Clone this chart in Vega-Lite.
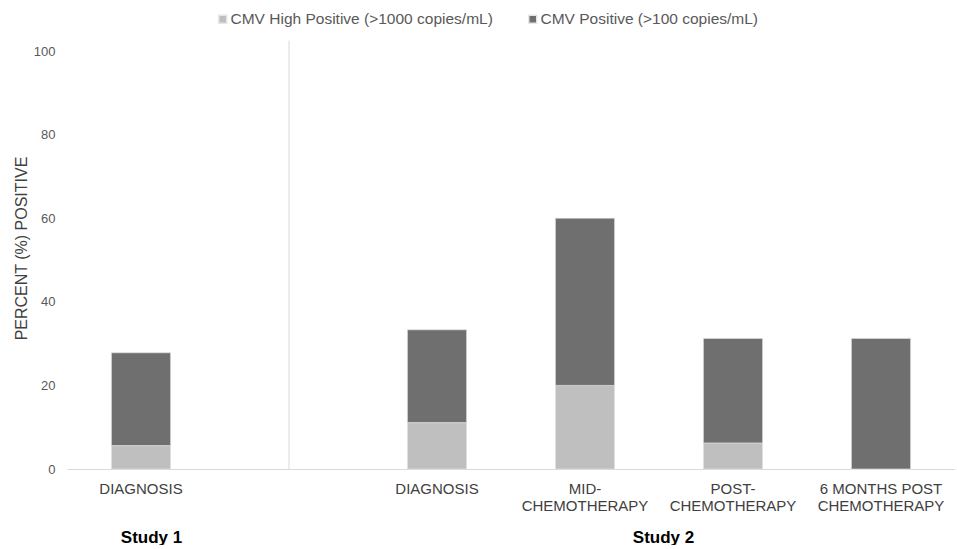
{
  "$schema": "https://vega.github.io/schema/vega-lite/v6.json",
  "background": "white",
  "padding": {"left": 13, "top": 11, "right": 0, "bottom": 0},
  "config": {"font": "Liberation Sans", "view": {"stroke": null}},
  "data": {"values": [
    {"study": "Study 1", "cat": "DIAGNOSIS", "series": "CMV High Positive (>1000 copies/mL)", "pct": 5.6, "kind": "bar"},
    {"study": "Study 1", "cat": "DIAGNOSIS", "series": "CMV Positive (>100 copies/mL)", "pct": 22.2, "kind": "bar"},
    {"study": "Study 1", "cat": "sep", "kind": "sep"},
    {"study": "Study 2", "cat": "DIAGNOSIS", "series": "CMV High Positive (>1000 copies/mL)", "pct": 11.1, "kind": "bar"},
    {"study": "Study 2", "cat": "DIAGNOSIS", "series": "CMV Positive (>100 copies/mL)", "pct": 22.2, "kind": "bar"},
    {"study": "Study 2", "cat": "MID-|CHEMOTHERAPY", "series": "CMV High Positive (>1000 copies/mL)", "pct": 20, "kind": "bar"},
    {"study": "Study 2", "cat": "MID-|CHEMOTHERAPY", "series": "CMV Positive (>100 copies/mL)", "pct": 40, "kind": "bar"},
    {"study": "Study 2", "cat": "POST-|CHEMOTHERAPY", "series": "CMV High Positive (>1000 copies/mL)", "pct": 6.25, "kind": "bar"},
    {"study": "Study 2", "cat": "POST-|CHEMOTHERAPY", "series": "CMV Positive (>100 copies/mL)", "pct": 25, "kind": "bar"},
    {"study": "Study 2", "cat": "6 MONTHS POST|CHEMOTHERAPY", "series": "CMV High Positive (>1000 copies/mL)", "pct": 0, "kind": "bar"},
    {"study": "Study 2", "cat": "6 MONTHS POST|CHEMOTHERAPY", "series": "CMV Positive (>100 copies/mL)", "pct": 31.25, "kind": "bar"}
  ]},
  "spacing": 0,
  "resolve": {"scale": {"x": "independent", "y": "shared", "color": "shared"}},
  "hconcat": [
    {
      "width": 296,
      "height": 418,
      "transform": [{"filter": "datum.study == 'Study 1'"}],
      "encoding": {
        "x": {
          "field": "cat", "type": "nominal", "sort": null,
          "scale": {"paddingInner": 0.6, "paddingOuter": 0.3},
          "axis": {
            "title": "Study 1", "titleFontSize": 17, "titleFontWeight": "bold", "titleColor": "#000000",
            "titleX": 84, "titleY": 68, "titleAlign": "center", "titleBaseline": "middle",
            "labelAngle": 0, "ticks": false, "domainColor": "#D9D9D9",
            "labelFontSize": 15, "labelColor": "#404040", "labelPadding": 12,
            "labelLineHeight": 17.5, "labelBaseline": "top", "labelOverlap": false, "labelLimit": 300,
            "labelExpr": "datum.value == 'sep' ? '' : split(datum.value, '|')"
          }
        }
      },
      "layer": [
        {
          "transform": [{"filter": "datum.kind == 'bar'"}],
          "mark": {"type": "bar", "stroke": "#e6e6e6", "strokeWidth": 0.6},
          "encoding": {
            "y": {
              "field": "pct", "type": "quantitative", "stack": "zero",
              "scale": {"domain": [0, 100], "nice": false},
              "axis": {
                "values": [0, 20, 40, 60, 80, 100], "domain": false, "ticks": false, "grid": false,
                "labelFontSize": 13, "labelColor": "#595959", "labelPadding": 12,
                "title": "PERCENT (%) POSITIVE", "titleFontSize": 16, "titleFontWeight": "normal",
                "titleColor": "#404040", "titlePadding": 4, "titleY": 197
              }
            },
            "color": {
              "field": "series", "type": "nominal",
              "scale": {"domain": ["CMV High Positive (>1000 copies/mL)", "CMV Positive (>100 copies/mL)"], "range": ["#BFBFBF", "#6F6F6F"]},
              "legend": {
                "orient": "none", "legendX": 148, "legendY": -40, "direction": "horizontal", "title": null,
                "symbolType": "square", "symbolSize": 64, "labelFontSize": 15.5, "labelColor": "#595959",
                "columnPadding": 32, "labelOffset": 0, "labelLimit": 500
              }
            },
            "order": {"field": "series", "sort": "ascending"}
          }
        },
        {
          "transform": [{"filter": "datum.kind == 'sep'"}],
          "mark": {"type": "rule", "color": "#D9D9D9", "strokeWidth": 1},
          "encoding": {
            "y": {"datum": 0},
            "y2": {"datum": 102.5}
          }
        }
      ]
    },
    {
      "width": 592,
      "height": 418,
      "transform": [{"filter": "datum.study == 'Study 2'"}],
      "mark": {"type": "bar", "stroke": "#e6e6e6", "strokeWidth": 0.6},
      "encoding": {
        "x": {
          "field": "cat", "type": "nominal", "sort": null,
          "scale": {"paddingInner": 0.6, "paddingOuter": 0.3},
          "axis": {
            "title": "Study 2", "titleFontSize": 17, "titleFontWeight": "bold", "titleColor": "#000000",
            "titleX": 300, "titleY": 68, "titleAlign": "center", "titleBaseline": "middle",
            "labelAngle": 0, "ticks": false, "domainColor": "#D9D9D9",
            "labelFontSize": 15, "labelColor": "#404040", "labelPadding": 12,
            "labelLineHeight": 17.5, "labelBaseline": "top", "labelOverlap": false, "labelLimit": 300,
            "labelExpr": "split(datum.value, '|')"
          }
        },
        "y": {
          "field": "pct", "type": "quantitative", "stack": "zero",
          "scale": {"domain": [0, 100], "nice": false},
          "axis": null
        },
        "color": {
          "field": "series", "type": "nominal",
          "scale": {"domain": ["CMV High Positive (>1000 copies/mL)", "CMV Positive (>100 copies/mL)"], "range": ["#BFBFBF", "#6F6F6F"]}
        },
        "order": {"field": "series", "sort": "ascending"}
      }
    }
  ]
}
